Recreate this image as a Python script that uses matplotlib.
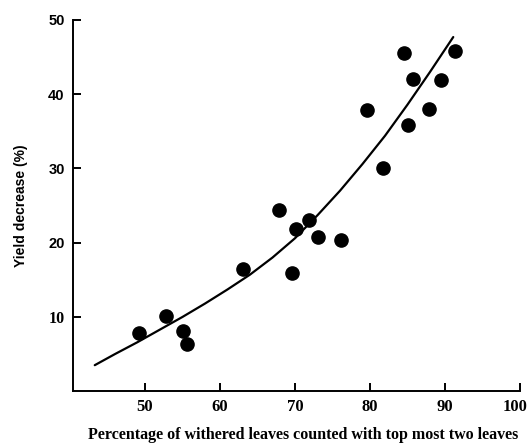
import matplotlib
matplotlib.use("Agg")
import matplotlib.pyplot as plt
from matplotlib.transforms import ScaledTranslation

# scatter points
withered_pct = [49.2, 52.8, 55.0, 55.6, 63.0, 67.9, 69.6, 70.1, 71.8, 73.1,
                76.1, 79.6, 81.7, 84.5, 85.0, 85.7, 87.9, 89.4, 91.3]
yield_decrease = [7.9, 10.1, 8.1, 6.3, 16.4, 24.4, 15.9, 21.9, 23.1, 20.8,
                  20.3, 37.9, 30.1, 45.5, 35.8, 42.1, 38.0, 41.9, 45.8]

# fitted curve, points
curve_x = [43.3, 46, 49, 52, 55, 58, 61, 64, 67, 70, 73, 76, 79, 82, 85,
           88, 91.1]
curve_y = [3.5, 5.0, 6.6, 8.3, 10.0, 11.8, 13.7, 15.7, 18.0, 20.6, 23.7,
           27.0, 30.6, 34.4, 38.6, 43.0, 47.7]

x_ticks = [50, 60, 70, 80, 90, 100]
y_ticks = [10, 20, 30, 40, 50]

fig = plt.figure(figsize=(5.29, 4.44), dpi=100)
ax = fig.add_axes([0.138, 0.119, 0.845, 0.836])

ax.plot(curve_x, curve_y, color="black", lw=1.6, solid_capstyle="round",
        solid_joinstyle="round")
ax.plot(withered_pct, yield_decrease, "o", color="black", markersize=9.5)

ax.set_xlim(40.4, 100)
ax.set_ylim(0, 50)
ax.set_xticks(x_ticks)
ax.set_yticks(y_ticks)
ax.spines["top"].set_visible(False)
ax.spines["right"].set_visible(False)
for s in ("left", "bottom"):
    ax.spines[s].set_linewidth(1.4)
ax.tick_params(direction="in", length=6, width=1.4, pad=6)

for lab in ax.get_xticklabels():
    lab.set_fontfamily("Liberation Serif")
    lab.set_fontweight("bold")
    lab.set_fontsize(12)
    if lab.get_text() == "100":
        # last label sits against the right edge, as in the scan
        lab.set_horizontalalignment("right")
        lab.set_transform(lab.get_transform() +
                          ScaledTranslation(0.07, 0, fig.dpi_scale_trans))
for lab in ax.get_yticklabels():
    if lab.get_text() == "10":
        lab.set_fontfamily("Liberation Serif")
        lab.set_fontsize(11.5)
    else:
        lab.set_fontfamily("Liberation Sans")
        lab.set_fontsize(10.5)
    lab.set_fontweight("bold")

ax.set_xlabel("Percentage of withered leaves counted with top most two leaves",
              fontfamily="Liberation Serif", fontweight="bold", fontsize=11.5)
ax.xaxis.set_label_coords(0.515, -0.096)
ax.set_ylabel("Yield decrease (%)", fontfamily="Liberation Sans",
              fontweight="bold", fontsize=10)
ax.yaxis.set_label_coords(-0.10, 0.5)

fig.savefig("out.png", dpi=100)
